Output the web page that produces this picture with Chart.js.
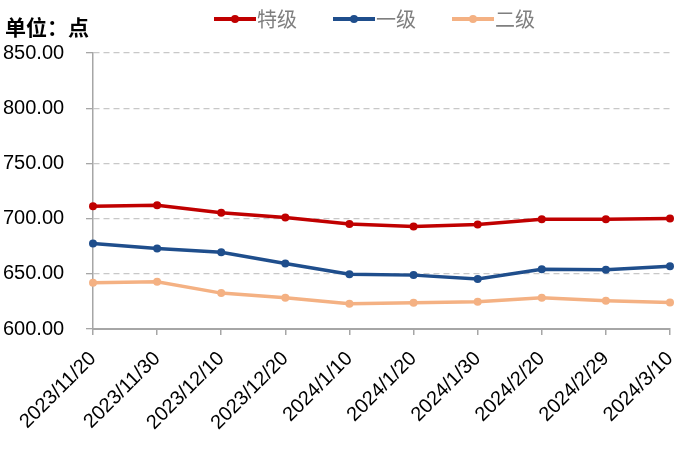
<!DOCTYPE html>
<html>
<head>
<meta charset="utf-8">
<script src="https://cdn.jsdelivr.net/npm/chart.js@4/dist/chart.umd.min.js"></script>
<style>
  html, body { margin: 0; padding: 0; background: #fff; }
  #wrap { width: 700px; height: 468px; position: relative; }
</style>
</head>
<body>
<div id="wrap"><canvas id="myChart" width="700" height="468"></canvas></div>
<script>
// data
const labels = ["2023/11/20", "2023/11/30", "2023/12/10", "2023/12/20", "2024/1/10",
                "2024/1/20", "2024/1/30", "2024/2/20", "2024/2/29", "2024/3/10"];
const seriesNames = ["特级", "一级", "二级"];
const special = [711.2, 712.1, 705.4, 700.9, 695.2, 692.8, 694.6, 699.4, 699.4, 700.0];
const first = [677.4, 672.9, 669.6, 659.3, 649.7, 648.8, 645.2, 654.2, 653.6, 656.9];
const second = [641.9, 642.8, 632.5, 628.3, 622.9, 623.8, 624.7, 628.3, 625.6, 624.1];
const yMin = 600, yMax = 850, yStep = 50;
const unitLabel = "单位：点";

const colors = ["#C00000", "#1F4E8C", "#F4B183"];
const numFont = "'Liberation Sans', Arial, sans-serif";
const cjkFont = "'Noto Sans CJK SC', sans-serif";

// legend + unit label drawn by hand so it looks like the excel one
const extras = {
  id: 'extras',
  afterDraw(chart) {
    const ctx = chart.ctx;
    ctx.save();
    ctx.font = "bold 21px " + cjkFont;
    ctx.fillStyle = "#000";
    ctx.textBaseline = "middle";
    ctx.textAlign = "left";
    ctx.fillText(unitLabel, 5, 27);

    let x = 214;
    const y = 19;
    chart.data.datasets.forEach(ds => {
      ctx.strokeStyle = ds.borderColor;
      ctx.lineWidth = 4;
      ctx.beginPath();
      ctx.moveTo(x, y);
      ctx.lineTo(x + 42, y);
      ctx.stroke();
      ctx.fillStyle = ds.borderColor;
      ctx.beginPath();
      ctx.arc(x + 21, y, 4, 0, Math.PI * 2);
      ctx.fill();
      ctx.fillStyle = "#7f7f7f";
      ctx.font = "20px " + cjkFont;
      ctx.fillText(ds.label, x + 43, y);
      x += 119;
    });
    ctx.restore();
  }
};

const myChartRef = document.getElementById("myChart").getContext("2d");

new Chart(myChartRef, {
  type: "line",
  data: {
    labels: labels,
    datasets: [special, first, second].map((d, i) => ({
      label: seriesNames[i],
      data: d,
      borderColor: colors[i],
      backgroundColor: colors[i],
      borderWidth: 3.5,
      pointRadius: 4,
      pointBorderWidth: 0,
      tension: 0
    }))
  },
  options: {
    responsive: false,
    animation: false,
    layout: { padding: { top: 53, right: 30, left: 3, bottom: 0 } },
    plugins: {
      legend: { display: false },
      tooltip: { enabled: false }
    },
    scales: {
      x: {
        offset: false,
        grid: { drawOnChartArea: false, drawTicks: true, tickLength: 6, color: "#a6a6a6", lineWidth: 1.5 },
        border: { display: true, color: "#a6a6a6", width: 2 },
        ticks: {
          color: "#000",
          font: { family: numFont, size: 20 },
          maxRotation: 45, minRotation: 45,
          autoSkip: false,
          padding: 12
        },
        afterFit(scale) { scale.height = 139; }
      },
      y: {
        min: yMin, max: yMax,
        grid: { color: "#c8c8c8", lineWidth: 1.3, tickLength: 7, tickColor: "#a6a6a6" },
        border: { display: true, color: "#a6a6a6", width: 1.5, dash: [6, 4] },
        ticks: {
          stepSize: yStep,
          color: "#000",
          crossAlign: "far",
          padding: 8,
          font: { family: numFont, size: 20 },
          callback: v => v.toFixed(2)
        },
        afterFit(scale) { scale.width = 90; }
      }
    }
  },
  plugins: [extras]
});
</script>
</body>
</html>
